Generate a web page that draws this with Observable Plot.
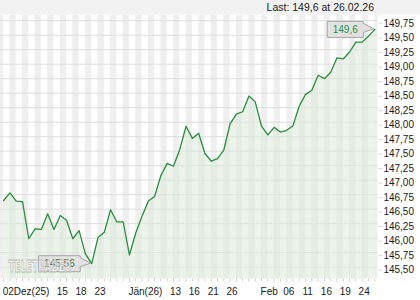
<!DOCTYPE html>
<html><head><meta charset="utf-8">
<script src="https://cdn.jsdelivr.net/npm/d3@7"></script>
<script src="https://cdn.jsdelivr.net/npm/@observablehq/plot@0.6"></script>
<style>
html,body{margin:0;padding:0;background:#fff;}
#chart svg{display:block}
</style></head><body><div id="chart"></div>
<script>
// trading days
const dates = [
"2025-12-02","2025-12-03","2025-12-04","2025-12-05",
"2025-12-08","2025-12-09","2025-12-10","2025-12-11","2025-12-12",
"2025-12-15","2025-12-16","2025-12-17","2025-12-18","2025-12-19",
"2025-12-22","2025-12-23","2025-12-24","2025-12-29","2025-12-30","2025-12-31",
"2026-01-02","2026-01-05","2026-01-06","2026-01-07","2026-01-08","2026-01-09",
"2026-01-12","2026-01-13","2026-01-14","2026-01-15","2026-01-16",
"2026-01-19","2026-01-20","2026-01-21","2026-01-22","2026-01-23",
"2026-01-26","2026-01-27","2026-01-28","2026-01-29","2026-01-30",
"2026-02-02","2026-02-03","2026-02-04","2026-02-05","2026-02-06",
"2026-02-09","2026-02-10","2026-02-11","2026-02-12","2026-02-13",
"2026-02-16","2026-02-17","2026-02-18","2026-02-19","2026-02-20",
"2026-02-23","2026-02-24","2026-02-25","2026-02-26"
];
const values = [
146.65,146.78,146.64,146.63,
145.99,146.16,146.15,146.42,146.15,
146.39,146.31,145.99,146.13,145.73,
145.56,146.01,146.10,146.49,146.28,146.28,
145.71,146.09,146.38,146.64,146.72,147.08,
147.29,147.24,147.53,147.93,147.72,
147.81,147.46,147.33,147.37,147.52,
147.97,148.14,148.18,148.45,148.35,
147.93,147.78,147.91,147.83,147.86,
147.94,148.28,148.48,148.55,148.81,
148.75,148.86,149.11,149.09,149.21,
149.38,149.38,149.48,149.60
];
const yTicks = [145.5,145.75,146,146.25,146.5,146.75,147,147.25,147.5,147.75,148,148.25,148.5,148.75,149,149.25,149.5,149.75];
const monthTickDates = ["2025-12-02","2026-01-02","2026-02-02"];
const monthTickLabels = ["02Dez(25)","Jän(26)","Feb"];
const dayTickDates = ["2025-12-15","2025-12-18","2025-12-23","2026-01-13","2026-01-16","2026-01-21","2026-01-26","2026-02-06","2026-02-11","2026-02-16","2026-02-19","2026-02-24"];
const dayTickLabels = ["15","18","23","13","16","21","26","06","11","16","19","24"];
const watermark = "TELETRADER";

const n = values.length;
const data = values.map((v, i) => ({i, date: dates[i], v}));
const idx = d3.range(n);
const greyBands = d3.range(-1, n).filter(i => Math.abs(i) % 2 === 1);
const yDomain = [145.296, 149.848];
const comma = s => String(s).replace(".", ",");
const monthIdx = monthTickDates.map(d => dates.indexOf(d));
const dayIdx = dayTickDates.map(d => dates.indexOf(d));
const monthLabelOf = new Map(monthIdx.map((k, j) => [k, monthTickLabels[j]]));
const dayLabelOf = new Map(dayIdx.map((k, j) => [k, dayTickLabels[j]]));
const FONT = "'Liberation Sans', Arial, sans-serif";

const chart = Plot.plot({
  width: 420, height: 300,
  marginTop: 14.5, marginBottom: 21.5, marginLeft: 0, marginRight: 42.6,
  x: {type: "linear", domain: [-0.5, n - 0.5], axis: null},
  y: {domain: yDomain, axis: null},
  style: {fontFamily: FONT, fontSize: "10px", background: "#fff", overflow: "visible"},
  marks: [
    Plot.rect(greyBands, {x1: d => d, x2: d => d + 1, y1: yDomain[0], y2: yDomain[1], fill: "#efefef", clip: true}),
    Plot.ruleY(yTicks, {stroke: "#dddddd"}),
    Plot.areaY(data, {x: "i", y1: yDomain[0], y2: "v", fill: "#dde9d9", fillOpacity: 0.55}),
    Plot.lineY(data, {x: "i", y: "v", stroke: "#2a8d3f", strokeWidth: 1.3}),
    Plot.axisY(yTicks, {anchor: "right", tickSize: 4, tickPadding: 1.5, stroke: "#d6d6d6", fill: "#1a1a1a",
      tickFormat: v => d3.format(".2f")(v).replace(".", ","), fontSize: 10, dy: 3, label: null}),
    Plot.axisX(idx, {anchor: "bottom", tickSize: 3, tickFormat: () => "", stroke: "#cfcfcf", label: null}),
    Plot.axisX(monthIdx, {anchor: "bottom", tickSize: 0, tickPadding: 9, tickFormat: k => monthLabelOf.get(k),
      textAnchor: "start", dx: -1, fill: "#1a1a1a", fontSize: 10, label: null}),
    Plot.axisX(dayIdx, {anchor: "bottom", tickSize: 0, tickPadding: 9, tickFormat: k => dayLabelOf.get(k),
      textAnchor: "middle", dx: 2, fill: "#1a1a1a", fontSize: 10, label: null})
  ]
});
document.getElementById("chart").appendChild(chart);

const sx = chart.scale("x"), sy = chart.scale("y");
const X = v => sx.apply(v), Y = v => sy.apply(v);
const svg = d3.select(chart);

// header
const hdr = svg.insert("g", ":first-child");
hdr.append("rect").attr("x", 0).attr("y", 0).attr("width", 420).attr("height", 14.5).attr("fill", "#f2f2f2");
const lastDate = dates[n - 1].split("-");
hdr.append("text").attr("x", 374).attr("y", 11).attr("text-anchor", "end")
  .attr("font-family", FONT).attr("font-size", 10.5).attr("fill", "#1a1a1a")
  .text(`Last: ${comma(values[n - 1])} at ${lastDate[2]}.${lastDate[1]}.${lastDate[0].slice(2)}`);

// callouts
const ctx = document.createElement("canvas").getContext("2d");
ctx.font = "10px 'Liberation Sans'";
function callout(i, color) {
  const px = X(i), py = Y(values[i]);
  const label = comma(values[i]);
  const w = ctx.measureText(label).width + 11;
  const h = 16;
  const bx2 = px - 11, bx1 = bx2 - w, by1 = py - h / 2 + 0.5, by2 = by1 + h;
  const g = svg.append("g");
  g.append("path")
    .attr("d", `M${bx1},${by1}H${bx2}V${by1 + 2}L${px - 0.5},${py}L${bx2},${by1 + 11}V${by2}H${bx1}Z`)
    .attr("fill", "#e2e2e2").attr("stroke", "#a6a6a6").attr("stroke-width", 1);
  g.append("text").attr("x", (bx1 + bx2) / 2).attr("y", (by1 + by2) / 2 + 3.6)
    .attr("text-anchor", "middle").attr("font-family", FONT).attr("font-size", 10)
    .attr("fill", color).text(label);
}
callout(n - 1, "#2a8d3f");
callout(d3.minIndex(values), "#3a6b40");

// watermark
svg.append("text").attr("x", 8.5).attr("y", 271.5).attr("text-anchor", "start")
  .attr("font-family", "'DejaVu Sans', sans-serif").attr("font-weight", "bold").attr("font-size", 15)
  .attr("textLength", 63).attr("lengthAdjust", "spacingAndGlyphs")
  .attr("fill", "#ffffff").attr("fill-opacity", 0.55).attr("stroke", "#b8b8b8").attr("stroke-width", 0.8)
  .text(watermark);
</script>
</body></html>
